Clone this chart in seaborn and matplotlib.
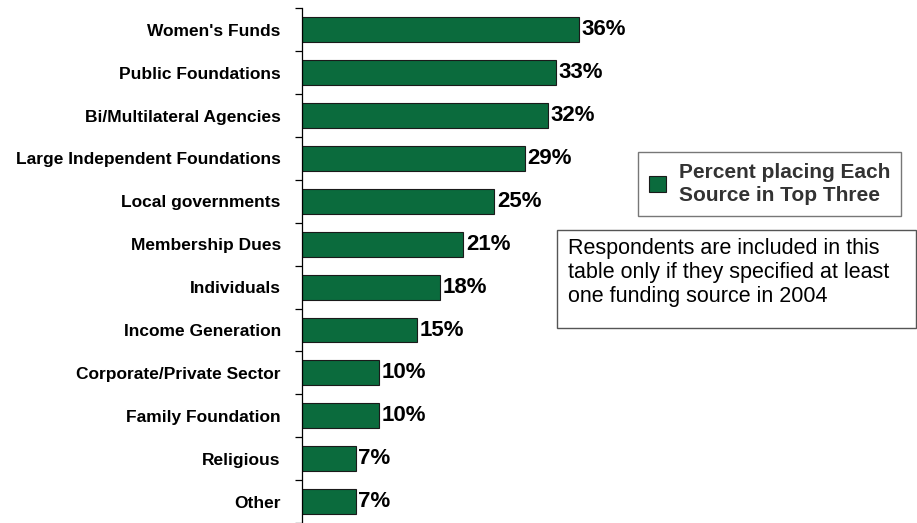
import numpy as np
import pandas as pd
import seaborn as sns
import matplotlib.pyplot as plt
from matplotlib.patches import Patch, Rectangle

# data
sources = ["Women's Funds", "Public Foundations", "Bi/Multilateral Agencies",
           "Large Independent Foundations", "Local governments", "Membership Dues",
           "Individuals", "Income Generation", "Corporate/Private Sector",
           "Family Foundation", "Religious", "Other"]
percent = [36, 33, 32, 29, 25, 21, 18, 15, 10, 10, 7, 7]

df = pd.DataFrame({"source": sources, "percent": percent})

sns.set_theme(style="white")
plt.rcParams['font.family'] = ['Liberation Sans', 'DejaVu Sans']

fig = plt.figure(figsize=(9.17, 5.23), dpi=100)
ax = fig.add_axes([0.329, 0.0, 0.671, 0.984])

green = '#0b6b3d'
sns.barplot(data=df, x='percent', y='source', orient='h', color=green,
            saturation=1, width=0.58, edgecolor='#1a1a1a', linewidth=0.8, ax=ax)

ax.bar_label(ax.containers[0], fmt='%d%%', padding=2, fontsize=16,
             fontweight='bold', color='black')

ax.set_xlim(0, 80)
ax.set_ylim(len(sources) - 0.5, -0.5)
ax.set_xlabel('')
ax.set_ylabel('')
ax.set_xticks([])
for s in ['top', 'right', 'bottom']:
    ax.spines[s].set_visible(False)
ax.spines['left'].set_color('black')
ax.spines['left'].set_linewidth(0.9)

# category labels with no tick, small tick marks between categories
ax.tick_params(axis='y', which='major', length=0, pad=15)
ax.set_yticks(np.arange(-0.5, len(sources) + 0.5, 1), minor=True)
ax.tick_params(axis='y', which='minor', left=True, length=5, width=0.9,
               color='black', direction='out')
for lbl in ax.get_yticklabels():
    lbl.set_fontsize(12.5)
    lbl.set_fontweight('bold')
    lbl.set_color('black')

# legend
handle = Patch(facecolor=green, edgecolor='#1a1a1a', linewidth=0.8)
leg = fig.legend([handle], ['Percent placing Each\nSource in Top Three'],
                 loc='upper left', bbox_to_anchor=(0.696, 0.709), borderaxespad=0,
                 frameon=True, fancybox=False, fontsize=15, handlelength=0.85,
                 handleheight=0.85, handletextpad=0.6, borderpad=0.5)
leg.get_frame().set_edgecolor('#555555')
leg.get_frame().set_linewidth(1.0)
for t in leg.get_texts():
    t.set_fontweight('bold')
    t.set_color('#333333')
    t.set_linespacing(1.3)

# note box
fig.patches.append(Rectangle((0.6074, 0.3728), 0.3915, 0.1874, transform=fig.transFigure,
                             facecolor='white', edgecolor='#555555', linewidth=1.0))
fig.text(0.6194, 0.544,
         'Respondents are included in this\ntable only if they specified at least\none funding source in 2004',
         fontsize=15.5, color='black', va='top', ha='left', linespacing=1.17)

fig.savefig('out.png', dpi=100)
